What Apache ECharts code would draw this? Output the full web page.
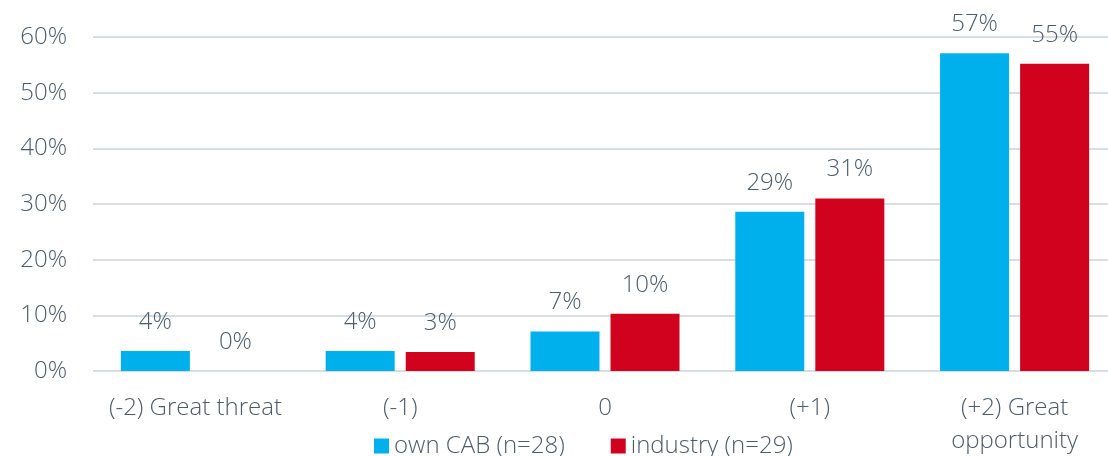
<!DOCTYPE html>
<html>
<head>
<meta charset="utf-8">
<script src="https://cdn.jsdelivr.net/npm/echarts@6/dist/echarts.min.js"></script>
<style>
  html, body { margin: 0; padding: 0; background: #fff; }
  #main { width: 1108px; height: 456px; }
</style>
</head>
<body>
<div id="main"></div>
<script>
// categories and values (percent)
const categories = ['(-2) Great threat', '(-1)', '0', '(+1)', '(+2) Great\nopportunity'];
const ownCab = [3.6, 3.6, 7.1, 28.6, 57.1];
const industry = [0, 3.4, 10.3, 31.0, 55.2];
const seriesNames = ['own CAB (n=28)', 'industry (n=29)'];

const textColor = '#4d5c69';
const fontFamily = 'Open Sans';
const fontWeight = 300;

let myChart = echarts.init(document.getElementById('main'));

const labelStyle = {
    show: true,
    position: 'top',
    distance: 17,
    color: textColor,
    fontSize: 24,
    fontWeight: fontWeight,
    fontFamily: fontFamily,
    formatter: function (p) { return Math.round(p.value) + '%'; }
};

option = {
    animation: false,
    color: ['#00b0ed', '#d0021e'],
    grid: {
        left: 93,
        right: -9,
        top: 37,
        bottom: 85,
        containLabel: false,
        outerBoundsMode: 'none'
    },
    legend: {
        bottom: -7,
        left: 369,
        itemWidth: 15,
        itemHeight: 15,
        itemGap: 46,
        icon: 'rect',
        textStyle: { color: textColor, fontSize: 24, fontWeight: fontWeight, fontFamily: fontFamily },
        data: seriesNames
    },
    xAxis: {
        type: 'category',
        data: categories,
        axisLine: { show: false },
        axisTick: { show: false },
        axisLabel: {
            color: textColor,
            fontSize: 24,
            fontWeight: fontWeight,
            fontFamily: fontFamily,
            margin: 21,
            lineHeight: 33,
            interval: 0
        }
    },
    yAxis: {
        type: 'value',
        min: 0,
        max: 60,
        interval: 10,
        axisLine: { show: false },
        axisTick: { show: false },
        axisLabel: {
            color: textColor,
            fontSize: 24,
            fontWeight: fontWeight,
            fontFamily: fontFamily,
            margin: 26,
            formatter: '{value}%'
        },
        splitLine: { lineStyle: { color: '#d6dee4', width: 2 } }
    },
    series: [
        {
            name: seriesNames[0],
            type: 'bar',
            data: ownCab,
            barWidth: 69,
            barGap: '16%',
            label: labelStyle
        },
        {
            name: seriesNames[1],
            type: 'bar',
            data: industry,
            barWidth: 69,
            label: labelStyle
        }
    ]
};
myChart.setOption(option);
</script>
</body>
</html>
